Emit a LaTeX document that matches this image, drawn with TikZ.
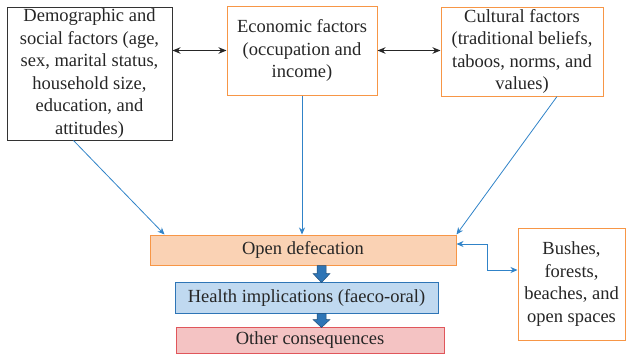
\documentclass[tikz,border=0pt]{standalone}
\usepackage{fontspec}
\setmainfont{Liberation Serif}
\usetikzlibrary{arrows.meta,calc}
\definecolor{obord}{HTML}{F79646}
\definecolor{odfill}{HTML}{FAD2B4}
\definecolor{hfill}{HTML}{C0D9F0}
\definecolor{hbord}{HTML}{2E75B6}
\definecolor{cfill}{HTML}{F4C3C3}
\definecolor{cbord}{HTML}{E0565B}
\definecolor{lblue}{HTML}{3083C8}
\definecolor{bfill}{HTML}{2E75B6}
\definecolor{bdark}{HTML}{1F4E79}
\tikzset{
  box/.style={draw, line width=1pt, align=center, inner sep=0pt, font=\fontsize{18.5}{22.5}\selectfont, text=black!85},
  obox/.style={box, draw=obord, fill=white},
  bl/.style={draw=lblue, line width=0.8pt, -{Stealth[length=7pt,width=6pt]}},
  dbl/.style={draw=black!85, line width=1pt, {Stealth[length=8pt,width=6.5pt]}-{Stealth[length=8pt,width=6.5pt]}},
  blockarrow/.style={fill=bfill, draw=bdark, line width=0.5pt}
}
\begin{document}
\begin{tikzpicture}[x=1pt,y=-1pt]
\useasboundingbox (0,0) rectangle (627,357);
\node[box, draw=black!80, minimum width=165pt, minimum height=133pt] (demo) at (89.5,73.5)
  {Demographic and\\social factors (age,\\sex, marital status,\\household size,\\education, and\\attitudes)};
\node[obox, minimum width=150pt, minimum height=89pt] (econ) at (302,50.5)
  {Economic factors\\(occupation and\\income)};
\node[obox, minimum width=162pt, minimum height=89pt] (cult) at (522,51.5)
  {Cultural factors\\(traditional beliefs,\\taboos, norms, and\\values)};
\node[box, draw=obord, fill=odfill, minimum width=306pt, minimum height=30pt] (od) at (303,250)
  {Open defecation};
\node[box, draw=hbord, fill=hfill, minimum width=263pt, minimum height=31pt] (health) at (306.5,297.5)
  {Health implications (faeco-oral)};
\node[box, draw=cbord, fill=cfill, minimum width=268pt, minimum height=26pt] (other) at (310,340)
  {Other consequences};
\node[obox, minimum width=107pt, minimum height=112pt] (bush) at (571.5,284)
  {Bushes,\\forests,\\beaches, and\\open spaces};

\draw[dbl] (econ.west -| demo.east) -- (econ.west);
\draw[dbl] (econ.east) -- (econ.east -| cult.west);

\draw[bl] ([xshift=-16pt]demo.south) -- ([xshift=15pt]od.north west);
\draw[bl] (econ.south) -- (econ.south |- od.north);
\draw[bl] ([xshift=35pt]cult.south) -- (od.north east);
\draw[bl, {Stealth[length=7pt,width=6pt]}-{Stealth[length=7pt,width=6pt]}]
  ([yshift=6pt]od.east) -- ++(31,0) |- ([yshift=14pt]bush.west);

\coordinate (a1) at ($(od.south)+(18.5,0)$);
\draw[blockarrow] ($(a1)+(-4.5,0)$) -- ++(9,0) -- ++(0,8) -- ++(4,0) -- ++(-8.5,9) -- ++(-8.5,-9) -- ++(4,0) -- cycle;
\coordinate (a2) at ($(health.south)+(15,0)$);
\draw[blockarrow] ($(a2)+(-4.5,0)$) -- ++(9,0) -- ++(0,6) -- ++(4,0) -- ++(-8.5,8) -- ++(-8.5,-8) -- ++(4,0) -- cycle;
\end{tikzpicture}
\end{document}
